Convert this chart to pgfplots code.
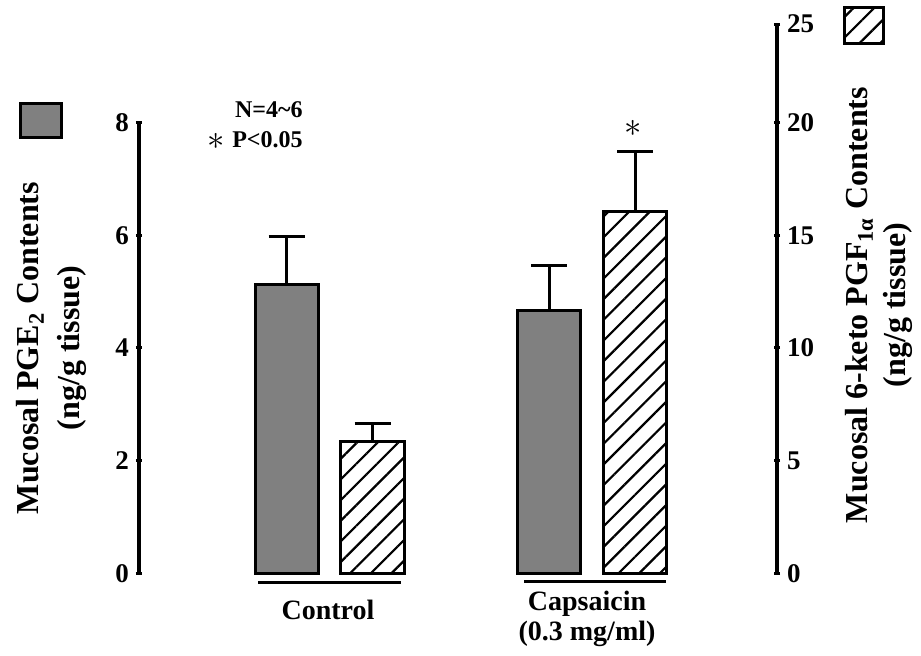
\documentclass[border=0pt]{standalone}
\usepackage{pgfplots}
\pgfplotsset{compat=1.18}
\usepackage{fontspec}
\setmainfont{Liberation Serif}
\usetikzlibrary{patterns.meta}
\definecolor{bargray}{RGB}{128,128,128}
\begin{document}
\begin{tikzpicture}
\useasboundingbox (-69.5pt,-40.85pt) rectangle (391pt,286.65pt);
\pgfplotsset{
  common/.style={
    scale only axis, width=319pt, xmin=0.27429, xmax=2.70476,
    at={(0pt,0pt)}, anchor=south west,
    axis x line=none,
    tick align=outside, major tick length=3pt,
    every tick/.style={black, line width=1.5pt},
    yticklabel style={font=\fontsize{13.5}{15}\selectfont\bfseries},
    /pgf/number format/assume math mode=true,
    clip=false,
  },
  axstyle/.style={
    axis line style={-, line width=1.6pt, black},
    every outer y axis line/.append style={-},
    every inner y axis line/.append style={-},
  }
}
\begin{axis}[common, height=225.35pt, ymin=0, ymax=8, axis y line=left, axstyle, ytick={0,2,4,6,8}]
\addplot[ybar, bar width=0.24, bar shift=0pt, fill=bargray, draw=black, line width=1.5pt,
  error bars/.cd, y dir=plus, y explicit,
  error bar style={line width=1.5pt, black},
  error mark options={rotate=90, mark size=9pt, line width=1.5pt, black}]
  coordinates {(0.8362,5.12) +- (0,0.85) (1.8362,4.67) +- (0,0.80)};
\end{axis}
\begin{axis}[common, height=274.65pt, ymin=0, ymax=24.38, axis y line=right, axstyle,
  ytick={0,5,10,15,20,24.38}, yticklabels={0,5,10,15,20,25}]
\addplot[ybar, bar width=0.24, bar shift=0pt, draw=black, line width=1.5pt,
  pattern={Lines[angle=45,distance=7.3pt,line width=1.1pt]}, pattern color=black,
  error bars/.cd, y dir=plus, y explicit,
  error bar style={line width=1.5pt, black},
  error mark options={rotate=90, mark size=9pt, line width=1.5pt, black}]
  coordinates {(1.1638,5.87) +- (0,0.76) (2.1638,16.08) +- (0,2.62)};
\end{axis}
% axis titles
\node[rotate=90, align=center, font=\fontsize{16}{20.5}\selectfont\bfseries] at (-43.75pt,112.65pt)
  {Mucosal PGE\textsubscript{2} Contents\\(ng/g tissue)};
\node[rotate=90, align=center, font=\fontsize{16}{19}\selectfont\bfseries] at (370pt,134.15pt)
  {Mucosal 6-keto PGF\textsubscript{1α} Contents\\(ng/g tissue)};
% annotations
\node[anchor=base east, font=\fontsize{12}{14}\selectfont\bfseries, inner sep=0pt] at (82pt,228.15pt) {N=4\textasciitilde 6};
\node[anchor=base east, font=\fontsize{12}{14}\selectfont\bfseries, inner sep=0pt] at (82pt,213.15pt) {P<0.05};
\node[inner sep=0pt] at (38.75pt,215.9pt) {\fontsize{19}{19}\selectfont$\ast$};
\node[inner sep=0pt] at (247pt,222.4pt) {\fontsize{19}{19}\selectfont$\ast$};
% category labels
\node[anchor=base, font=\fontsize{14}{16}\selectfont\bfseries, inner sep=0pt] at (94.5pt,-23pt) {Control};
\node[anchor=base, font=\fontsize{14}{16}\selectfont\bfseries, inner sep=0pt] at (224pt,-18.35pt) {Capsaicin};
\node[anchor=base, font=\fontsize{14}{16}\selectfont\bfseries, inner sep=0pt] at (224pt,-33.35pt) {(0.3 mg/ml)};
\draw[line width=1.5pt] (59.5pt,-4.7pt) -- (131pt,-4.7pt);
\draw[line width=1.5pt] (192.5pt,-4.2pt) -- (263.5pt,-4.2pt);
% legend squares
\draw[line width=1.5pt, fill=bargray] (-59pt,218.15pt) rectangle (-38.5pt,235.15pt);
\draw[line width=1.5pt, pattern={Lines[angle=45,distance=7.3pt,line width=1.1pt]}, pattern color=black] (352.5pt,265.15pt) rectangle (372pt,283.15pt);
\end{tikzpicture}
\end{document}
